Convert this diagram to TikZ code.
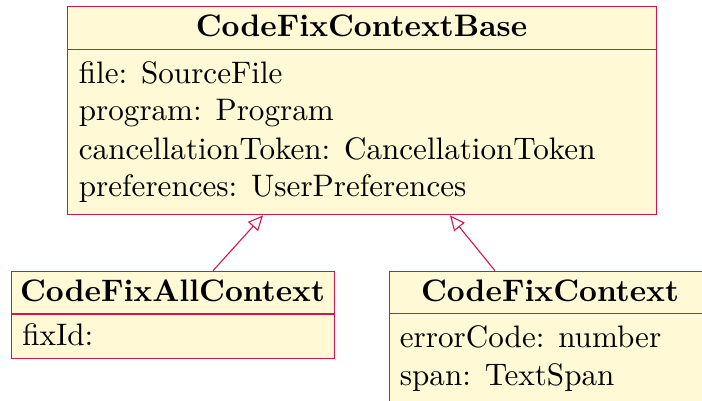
\documentclass[tikz,border=0pt]{standalone}
\usetikzlibrary{arrows.meta}
\definecolor{umlfill}{RGB}{255,249,214}
\definecolor{umlline}{RGB}{206,22,86}
\tikzset{
  classbox/.style={draw=umlline, fill=umlfill, line width=1.1pt, inner sep=0pt, anchor=north west},
  divider/.style={draw=umlline, line width=1.1pt},
  classname/.style={font=\fontsize{10}{12}\selectfont\bfseries, anchor=base, inner sep=0pt, scale=3.11, transform shape},
  member/.style={font=\fontsize{10}{12}\selectfont, anchor=base west, inner sep=0pt, scale=3.11, transform shape},
  inherit/.style={draw=umlline, line width=1.1pt, -{Triangle[open,length=15pt,width=13.5pt]}}
}
\begin{document}
\begin{tikzpicture}[x=1pt,y=-1pt]
  \useasboundingbox (0,0) rectangle (702,401);
  \clip (0,0) rectangle (702,401);

  % base class
  \node[classbox, minimum width=588.4pt, minimum height=208.6pt] (base) at (67.3,5.7) {};
  \draw[divider] ([yshift=-43.6pt]base.north west) -- ([yshift=-43.6pt]base.north east);
  \node[classname] (baseT) at (361.5,37) {CodeFixContextBase};
  \node[member] (m1) at (78.3,83.3) {file: SourceFile};
  \node[member] (m2) at (78.3,121) {program: Program};
  \node[member] (m3) at (78.3,159.3) {cancellationToken: CancellationToken};
  \node[member] (m4) at (78.3,196.7) {preferences: UserPreferences};

  % CodeFixAllContext
  \node[classbox, minimum width=323pt, minimum height=87.3pt] (allctx) at (11,270.7) {};
  \draw[divider] ([yshift=-43.3pt]allctx.north west) -- ([yshift=-43.3pt]allctx.north east);
  \node[classname] (allT) at (172.5,301.7) {CodeFixAllContext};
  \node[member] (a1) at (21.7,345) {fixId:};

  % CodeFixContext
  \node[classbox, minimum width=322pt, minimum height=200pt] (ctx) at (389,270.7) {};
  \draw[divider] ([yshift=-42.6pt]ctx.north west) -- ([yshift=-42.6pt]ctx.north east);
  \node[classname] (ctxT) at (550,301.7) {CodeFixContext};
  \node[member] (c1) at (399.3,347.3) {errorCode: number};
  \node[member] (c2) at (399.3,385) {span: TextSpan};

  % generalisation arrows
  \draw[inherit] ([xshift=202pt]allctx.north west) -- ([xshift=195.7pt]base.south west);
  \draw[inherit] ([xshift=106pt]ctx.north west) -- ([xshift=382.7pt]base.south west);
\end{tikzpicture}
\end{document}
